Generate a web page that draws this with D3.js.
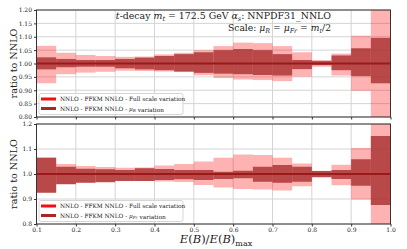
<!DOCTYPE html>
<html>
<head>
<meta charset="utf-8">
<script src="https://cdn.jsdelivr.net/npm/d3@7"></script>
<style>
  body { margin: 0; background: #fff; }
  text { font-family: "DejaVu Serif", "Liberation Serif", serif; fill: #222; }
</style>
</head>
<body>
<svg id="chart" width="407" height="249"></svg>
<script>
// bin edges in E(B)/E(B)max
var binEdges = [0.1, 0.15, 0.2, 0.25, 0.3, 0.35, 0.4, 0.45, 0.5, 0.55,
                0.6, 0.65, 0.7, 0.75, 0.8, 0.85, 0.9, 0.95, 1.0];
var central = [1, 1, 1, 1, 1, 1, 1, 1, 1, 1, 1, 1, 1, 1, 1, 1, 1, 1];

// full scale variation (same in both panels)
var fullUp = [1.066, 1.040, 1.032, 1.028, 1.025, 1.026, 1.034, 1.040, 1.050,
              1.065, 1.078, 1.076, 1.065, 1.042, 1.013, 1.037, 1.104, 1.250];
var fullDn = [0.926, 0.960, 0.966, 0.969, 0.973, 0.972, 0.970, 0.968, 0.956,
              0.946, 0.940, 0.938, 0.934, 0.951, 0.988, 0.955, 0.898, 0.750];

// mu_R variation (top panel)
var muRUp = [1.023, 1.017, 1.013, 1.013, 1.017, 1.022, 1.028, 1.035, 1.042,
             1.050, 1.054, 1.050, 1.035, 1.013, 1.009, 1.030, 1.057, 1.096];
var muRDn = [0.978, 0.986, 0.988, 0.988, 0.982, 0.978, 0.975, 0.970, 0.965,
             0.962, 0.960, 0.957, 0.955, 0.979, 0.994, 0.975, 0.953, 0.926];

// mu_Fr variation (bottom panel)
var muFUp = [1.065, 1.029, 1.021, 1.019, 1.016, 1.023, 1.020, 1.016, 1.016,
             1.009, 1.013, 1.029, 1.036, 1.029, 1.012, 1.016, 1.059, 1.152];
var muFDn = [0.925, 0.959, 0.965, 0.967, 0.972, 0.972, 0.976, 0.979, 0.976,
             0.980, 0.983, 0.969, 0.965, 0.969, 0.987, 0.980, 0.953, 0.876];

var xTicks = [0.1, 0.2, 0.3, 0.4, 0.5, 0.6, 0.7, 0.8, 0.9, 1.0];
var yTicksTop = [0.8, 0.85, 0.9, 0.95, 1.0, 1.05, 1.1, 1.15, 1.2];
var yTicksBot = [0.8, 0.9, 1.0, 1.1, 1.2];

var svg = d3.select("#chart");
var left = 36.5, right = 390.5;

var xScale = d3.scaleLinear().domain([0.1, 1.0]).range([left, right]);

var panels = [
  { y0: 10, y1: 117, up: muRUp, dn: muRDn, ticks: yTicksTop, fmt: d3.format(".2f"),
    showX: false, label: "R" },
  { y0: 124, y1: 224, up: muFUp, dn: muFDn, ticks: yTicksBot, fmt: d3.format(".1f"),
    showX: true, label: "Fr" }
];

var bins = d3.range(central.length);

panels.forEach(function(p, pi) {
  var yScale = d3.scaleLinear().domain([0.8, 1.2]).range([p.y1, p.y0]);

  var clipId = "clip" + pi;
  svg.append("clipPath").attr("id", clipId)
    .append("rect")
    .attr("x", left).attr("y", p.y0)
    .attr("width", right - left).attr("height", p.y1 - p.y0);

  // grid
  var grid = svg.append("g").attr("class", "grid");
  grid.selectAll(".gx").data(xTicks).enter().append("line")
    .attr("x1", function(d) { return xScale(d); })
    .attr("x2", function(d) { return xScale(d); })
    .attr("y1", p.y0).attr("y2", p.y1)
    .style("stroke", "#d4d4d4").style("stroke-width", 1);
  grid.selectAll(".gy").data(p.ticks).enter().append("line")
    .attr("x1", left).attr("x2", right)
    .attr("y1", function(d) { return yScale(d); })
    .attr("y2", function(d) { return yScale(d); })
    .style("stroke", "#d4d4d4").style("stroke-width", 1);

  var g = svg.append("g").attr("clip-path", "url(#" + clipId + ")");

  // full scale band
  g.selectAll(".full").data(bins).enter().append("rect")
    .attr("x", function(i) { return xScale(binEdges[i]); })
    .attr("width", function(i) { return xScale(binEdges[i + 1]) - xScale(binEdges[i]); })
    .attr("y", function(i) { return yScale(fullUp[i]); })
    .attr("height", function(i) { return yScale(fullDn[i]) - yScale(fullUp[i]); })
    .style("fill", "red").style("fill-opacity", 0.3);

  // single scale band
  g.selectAll(".single").data(bins).enter().append("rect")
    .attr("x", function(i) { return xScale(binEdges[i]); })
    .attr("width", function(i) { return xScale(binEdges[i + 1]) - xScale(binEdges[i]); })
    .attr("y", function(i) { return yScale(p.up[i]); })
    .attr("height", function(i) { return yScale(p.dn[i]) - yScale(p.up[i]); })
    .style("fill", "#a52a2a").style("fill-opacity", 0.78);

  // central line
  var line = d3.line().curve(d3.curveStepAfter)
    .x(function(d) { return xScale(d[0]); })
    .y(function(d) { return yScale(d[1]); });
  var pts = binEdges.map(function(e, i) {
    return [e, central[Math.min(i, central.length - 1)]];
  });
  g.append("path").attr("d", line(pts))
    .style("fill", "none").style("stroke", "#9a1a1a").style("stroke-width", 2.2);

  // frame
  svg.append("rect")
    .attr("x", left).attr("y", p.y0)
    .attr("width", right - left).attr("height", p.y1 - p.y0)
    .style("fill", "none").style("stroke", "#333").style("stroke-width", 1);

  // axes
  var yAxis = d3.axisLeft(yScale).tickValues(p.ticks).tickFormat(p.fmt)
    .tickSize(2.5).tickPadding(2);
  var ya = svg.append("g").attr("transform", "translate(" + left + ",0)").call(yAxis);
  ya.select(".domain").remove();
  ya.selectAll("line").style("stroke", "#333");
  ya.selectAll("text").style("font-size", "6px").style("font-family", "DejaVu Serif");

  var xAxis = d3.axisBottom(xScale).tickValues(xTicks).tickFormat(d3.format(".1f"))
    .tickSize(2.5).tickPadding(1);
  var xa = svg.append("g").attr("transform", "translate(0," + p.y1 + ")").call(xAxis);
  xa.select(".domain").remove();
  xa.selectAll("line").style("stroke", "#333");
  xa.selectAll("text").style("font-size", "6px").style("font-family", "DejaVu Serif");
  if (!p.showX) xa.selectAll("text").remove();

  // y label
  svg.append("text")
    .attr("transform", "translate(16.5," + ((p.y0 + p.y1) / 2) + ") rotate(-90)")
    .attr("text-anchor", "middle")
    .style("font-size", "9.6px")
    .text("ratio to NNLO");

  // legend
  var lg = svg.append("g").attr("transform", "translate(39," + (p.y1 - 23.5) + ")");
  lg.append("rect").attr("width", 144).attr("height", 21).attr("rx", 2)
    .style("fill", "#fff").style("fill-opacity", 0.8)
    .style("stroke", "#ccc").style("stroke-width", 0.8);
  var entries = [
    { color: "#f01010", parts: [["NNLO - FFKM NNLO - Full scale variation", null]] },
    { color: "#a82828", parts: [["NNLO - FFKM NNLO - ", null], ["\u03bc", "i"], [p.label, "sub"], [" variation", null]] }
  ];
  entries.forEach(function(e, k) {
    var yy = 5.5 + k * 9.5;
    lg.append("line").attr("x1", 2).attr("x2", 17).attr("y1", yy).attr("y2", yy)
      .style("stroke", e.color).style("stroke-width", 3);
    var t = lg.append("text").attr("x", 21).attr("y", yy + 2)
      .style("font-size", "5.8px");
    e.parts.forEach(function(pt) {
      var ts = t.append("tspan").text(pt[0]);
      if (pt[1] === "i") ts.style("font-style", "italic");
      if (pt[1] === "sub") ts.attr("dy", 1.3).style("font-size", "4.2px").style("font-style", "italic");
    });
  });
});

// title lines
function addRich(x, y, parts, size) {
  var t = svg.append("text").attr("x", x).attr("y", y)
    .attr("text-anchor", "end").style("font-size", size + "px");
  var shifted = false;
  parts.forEach(function(pt) {
    var ts = t.append("tspan").text(pt[0]);
    if (shifted) { ts.attr("dy", -2); shifted = false; }
    if (pt[1] === "i") ts.style("font-style", "italic");
    if (pt[1] === "sub") {
      ts.attr("dy", 2).style("font-size", (size * 0.7) + "px").style("font-style", "italic");
      shifted = true;
    }
  });
  return t;
}
addRich(331, 18.5, [["t", "i"], ["-decay ", null], ["m", "i"], ["t", "sub"],
  [" = 172.5 GeV ", null], ["\u03b1", "i"], ["s", "sub"], [": NNPDF31_NNLO", null]], 9.4);
addRich(331, 31, [["Scale: ", null], ["\u03bc", "i"], ["R", "sub"], [" = ", null],
  ["\u03bc", "i"], ["Fr", "sub"], [" = ", null], ["m", "i"], ["t", "sub"], ["/2", null]], 9.2);

// x label
var xl = svg.append("text").attr("x", 216).attr("y", 243)
  .attr("text-anchor", "middle").style("font-size", "11.5px");
xl.append("tspan").text("E").style("font-style", "italic");
xl.append("tspan").text("(");
xl.append("tspan").text("B").style("font-style", "italic");
xl.append("tspan").text(")/");
xl.append("tspan").text("E").style("font-style", "italic");
xl.append("tspan").text("(");
xl.append("tspan").text("B").style("font-style", "italic");
xl.append("tspan").text(")");
xl.append("tspan").text("max").attr("dy", 2.5).style("font-size", "8px");
</script>
</body>
</html>
